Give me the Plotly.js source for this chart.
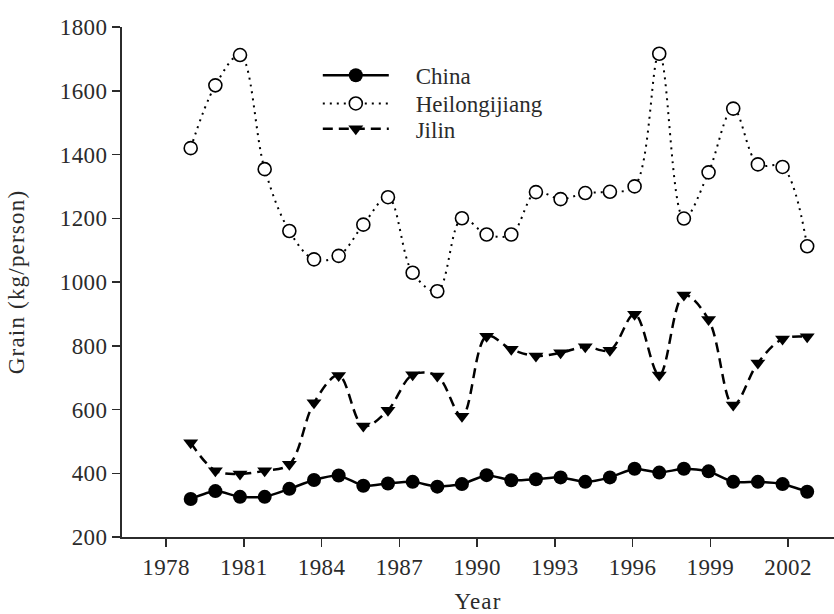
<!DOCTYPE html>
<html>
<head>
<meta charset="utf-8">
<script src="https://cdn.plot.ly/plotly-3.0.1.min.js"></script>
<style>
  html, body { margin: 0; padding: 0; background: #fff; }
  #chart { width: 834px; height: 614px; }
  #chart .xtick text, #chart .ytick text { letter-spacing: 0.4px; }
  #chart .g-xtitle text, #chart .g-ytitle text { letter-spacing: 1.2px; }
</style>
</head>
<body>
<div id="chart"></div>
<script>
// Data
const years = [1978, 1979, 1980, 1981, 1982, 1983, 1984, 1985, 1986, 1987, 1988, 1989, 1990,
               1991, 1992, 1993, 1994, 1995, 1996, 1997, 1998, 1999, 2000, 2001, 2002, 2003];
const china = [319, 344, 326, 326, 351, 379, 393, 361, 368, 373, 358, 366, 394,
               378, 381, 387, 373, 387, 414, 402, 414, 406, 373, 373, 366, 342];
const heilongjiang = [1420, 1617, 1712, 1354, 1160, 1071, 1082, 1180, 1266, 1029, 971, 1200, 1149,
                      1149, 1282, 1260, 1279, 1283, 1300, 1716, 1199, 1344, 1544, 1369, 1361, 1112];
const jilin = [496, 408, 398, 408, 428, 621, 707, 548, 598, 709, 705, 579, 830,
               789, 768, 778, 797, 786, 899, 708, 959, 882, 614, 746, 821, 828];
const seriesNames = ['China', 'Heilongijiang', 'Jilin'];
const xTickLabels = [1978, 1981, 1984, 1987, 1990, 1993, 1996, 1999, 2002];
const yTicks = [200, 400, 600, 800, 1000, 1200, 1400, 1600, 1800];

// In the reference the year ticks are spaced slightly wider than the data points
const tickStretch = 1.0511;
const xTickVals = xTickLabels.map(t => 1977 + (t - 1978) * tickStretch);

const FONT = 'Liberation Serif, Times New Roman, serif';
const INK = '#2b2b2b';
const FS = 23;
const PAD = '\u00a0\u00a0\u00a0\u2009'; // gap between legend symbol and label

const traces = [
  {
    x: years, y: china, name: PAD + seriesNames[0], type: 'scatter', mode: 'lines+markers', legend: 'legend',
    line: { color: '#000', width: 2.5, shape: 'spline', smoothing: 0.6 },
    marker: { symbol: 'circle', size: 14, color: '#000' }
  },
  {
    x: years, y: heilongjiang, name: PAD + seriesNames[1], type: 'scatter', mode: 'lines+markers', legend: 'legend2',
    line: { color: '#000', width: 2, shape: 'spline', smoothing: 1, dash: '2px,5px' },
    marker: { symbol: 'circle', size: 13, color: '#fff', line: { color: '#000', width: 1.6 } }
  },
  {
    x: years, y: jilin, name: PAD + seriesNames[2], type: 'scatter', mode: 'lines+markers', legend: 'legend3',
    line: { color: '#000', width: 2.5, shape: 'spline', smoothing: 1, dash: '10px,6px' },
    marker: { symbol: 'triangle-down', size: 13, color: '#000' }
  }
];

function legendAt(y) {
  return {
    x: 0.275, y: y, xanchor: 'left', yanchor: 'top',
    bgcolor: 'rgba(0,0,0,0)', borderwidth: 0,
    font: { family: FONT, size: FS, color: INK },
    itemwidth: 66
  };
}

const layout = {
  width: 834, height: 614,
  margin: { l: 122, r: 0, t: 27, b: 77 },
  paper_bgcolor: '#fff', plot_bgcolor: '#fff',
  font: { family: FONT, size: FS, color: INK },
  showlegend: true,
  legend: legendAt(0.9475),
  legend2: legendAt(0.8922),
  legend3: legendAt(0.8425),
  xaxis: {
    range: [1975.214, 2004.087],
    tickmode: 'array', tickvals: xTickVals, ticktext: xTickLabels.map(String),
    ticks: 'outside', ticklen: 8, tickwidth: 1.5, tickcolor: INK,
    showline: true, linecolor: INK, linewidth: 2,
    showgrid: false, zeroline: false,
    tickfont: { family: FONT, size: FS, color: INK },
    title: { text: 'Year', font: { family: FONT, size: FS, color: INK }, standoff: 23 }
  },
  yaxis: {
    range: [200, 1800],
    tickmode: 'array', tickvals: yTicks, ticktext: yTicks.map(String),
    ticks: 'outside', ticklen: 8, tickwidth: 1.5, tickcolor: INK,
    showline: true, linecolor: INK, linewidth: 2,
    showgrid: false, zeroline: false,
    tickfont: { family: FONT, size: FS, color: INK },
    title: { text: 'Grain (kg/person)', font: { family: FONT, size: FS, color: INK }, standoff: 30 }
  }
};

Plotly.newPlot('chart', traces, layout, { displayModeBar: false, staticPlot: true });
</script>
</body>
</html>
